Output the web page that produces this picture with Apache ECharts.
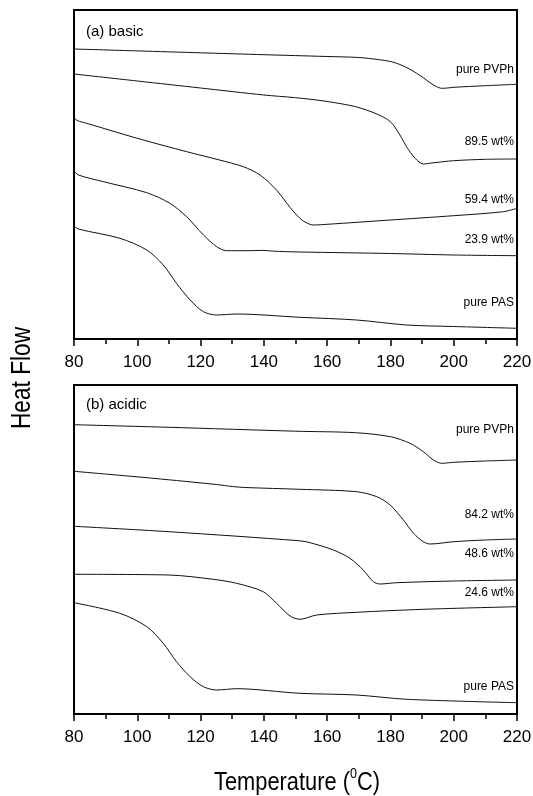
<!DOCTYPE html>
<html>
<head>
<meta charset="utf-8">
<script src="https://cdn.jsdelivr.net/npm/echarts@6/dist/echarts.min.js"></script>
<style>
  html, body { margin: 0; padding: 0; background: #fff; }
  #chart { width: 533px; height: 796px; }
</style>
</head>
<body>
<div id="chart"></div>
<script>
// temperature (°C), heat flow (a.u.)
const basicPVPh = [[80, 290], [100, 288.1], [120, 286.2], [140, 284.3], [160, 282.5], [170, 281.5], [176, 279.5], [180, 277.5], [183, 274.5], [186, 270], [188.3, 265.7], [190.5, 261], [192.5, 256.3], [194.5, 252.5], [196.2, 250.7], [198, 251], [200, 251.7], [210, 253.3], [220, 254.7]]
const basic895 = [[80, 265], [100, 258], [120, 251], [140, 244], [150, 241.3], [159, 238], [169, 232.3], [175.7, 225], [180, 217.3], [183, 204], [185.1, 192.3], [187.8, 180.7], [190.4, 175], [193, 176], [200, 178.3], [210, 179.7], [220, 180]]
const basic594 = [[80, 221.3], [81, 218.5], [84, 215.7], [100, 200.7], [115.6, 187.3], [126, 179], [133.5, 172.3], [138.8, 164], [144, 149], [148.3, 131.5], [151.4, 120.7], [153, 117], [155.6, 114], [160, 114.7], [180, 119], [200, 123.3], [215.7, 127.3], [220, 130.7]]
const basic239 = [[80, 168], [81.4, 164], [89.3, 157.3], [103, 146.3], [110.3, 135.7], [115.6, 122.3], [120.9, 104], [125.1, 92.3], [128.2, 88.3], [135, 88.3], [140, 88.6], [143, 87.8], [151.4, 87], [180, 85.5], [200, 84], [220, 83.3]]
const basicPAS = [[80, 113.3], [81.4, 110], [94.5, 100.7], [103, 89], [108.2, 74], [112.4, 55.7], [116.7, 39], [120.9, 27.3], [125.1, 24], [131.4, 25], [151.4, 21.7], [169.3, 19], [185.1, 14], [200, 12.5], [220, 10.7]]

const acidicPVPh = [[80, 289.3], [110, 286.7], [150, 282.8], [169, 281.3], [180, 277.3], [186.2, 270.7], [190.4, 262.3], [193.6, 254], [196.2, 250.7], [200, 251.7], [210, 253], [220, 254]]
const acidic842 = [[80, 242.7], [105, 235.7], [125, 229.5], [130, 227.5], [134, 226.5], [151.4, 224.7], [169.3, 222.3], [175.7, 217.3], [179.9, 209], [184.1, 194], [187.3, 180.7], [190.4, 172.3], [192.5, 170], [200, 172.3], [210, 174], [220, 175]]
const acidic486 = [[80, 187.7], [110, 182.3], [151.4, 173.2], [154.6, 171.3], [162, 164], [167.2, 155.7], [171.4, 144], [174.6, 132.3], [176.7, 130], [182, 131.3], [200, 133], [220, 134]]
const acidic246 = [[80, 139.7], [110, 139], [124, 134.7], [131.4, 130.7], [139.8, 122.3], [144, 110.7], [148.3, 98], [151.4, 94.7], [156.7, 99], [169.3, 101.7], [190.4, 104.7], [220, 107.3]]
const acidicPAS = [[80, 111.3], [94.5, 100.7], [103, 87.3], [108.2, 70.7], [112.4, 52.3], [116.7, 37.3], [120.9, 27.3], [125.1, 24], [131.4, 25.3], [151.4, 20.7], [169.3, 19], [185.1, 14.7], [220, 11.3]]

const labelsA = ['pure PVPh', '89.5 wt%', '59.4 wt%', '23.9 wt%', 'pure PAS']
const labelsB = ['pure PVPh', '84.2 wt%', '48.6 wt%', '24.6 wt%', 'pure PAS']

const font = 'Liberation Sans, Arial, sans-serif'
const chart = echarts.init(document.getElementById('chart'))

function xAx(gridIndex) {
  return {
    type: 'value',
    gridIndex: gridIndex,
    min: 80,
    max: 220,
    interval: 20,
    axisLine: { show: true, lineStyle: { color: '#000', width: 2 } },
    axisTick: { show: true, length: 7, lineStyle: { color: '#000', width: 1.5 } },
    minorTick: { show: true, splitNumber: 2, length: 5, lineStyle: { color: '#000', width: 1.5 } },
    splitLine: { show: false },
    axisLabel: { color: '#000', fontSize: 17, fontFamily: font, margin: 15 }
  }
}
function yAx(gridIndex) {
  return { type: 'value', gridIndex: gridIndex, min: 0, max: 329, show: false }
}
function line(data, idx) {
  return {
    type: 'line',
    xAxisIndex: idx,
    yAxisIndex: idx,
    data: data,
    smooth: 0.3,
    showSymbol: false,
    lineStyle: { color: '#111', width: 1 },
    silent: true
  }
}

// curve labels (y positions in px)
const posA = [70, 141.7, 200, 240, 302.7]
const posB = [429.3, 515, 553.3, 592.7, 686.7]
const curveTexts = []
labelsA.forEach((t, i) => curveTexts.push({ type: 'text', x: 514, y: posA[i], style: { text: t, fill: '#000', font: '12px ' + font, textAlign: 'right', textVerticalAlign: 'middle' } }))
labelsB.forEach((t, i) => curveTexts.push({ type: 'text', x: 514, y: posB[i], style: { text: t, fill: '#000', font: '12px ' + font, textAlign: 'right', textVerticalAlign: 'middle' } }))

chart.setOption({
  animation: false,
  backgroundColor: '#fff',
  grid: [
    { left: 74, top: 10, width: 443, height: 329, show: true, borderColor: '#000', borderWidth: 2, outerBoundsMode: 'none' },
    { left: 74, top: 385, width: 443, height: 329, show: true, borderColor: '#000', borderWidth: 2, outerBoundsMode: 'none' }
  ],
  xAxis: [xAx(0), xAx(1)],
  yAxis: [yAx(0), yAx(1)],
  series: [
    line(basicPVPh, 0), line(basic895, 0), line(basic594, 0), line(basic239, 0), line(basicPAS, 0),
    line(acidicPVPh, 1), line(acidic842, 1), line(acidic486, 1), line(acidic246, 1), line(acidicPAS, 1)
  ],
  graphic: [
    { type: 'text', x: 86, y: 32, style: { text: '(a) basic', fill: '#000', font: '15px ' + font, textVerticalAlign: 'middle' } },
    { type: 'text', x: 86, y: 405, style: { text: '(b) acidic', fill: '#000', font: '15px ' + font, textVerticalAlign: 'middle' } },
    { type: 'text', x: 23, y: 378, rotation: Math.PI / 2, scaleX: 0.84, style: { text: 'Heat Flow', fill: '#000', font: '27px ' + font, textAlign: 'center', textVerticalAlign: 'middle' } },
    {
      type: 'text', x: 297, y: 781, scaleX: 0.84,
      style: {
        text: '{a|Temperature (}{s|0}{a|C)}',
        textAlign: 'center', textVerticalAlign: 'middle',
        rich: {
          a: { fontSize: 26, fontFamily: font, fill: '#000', lineHeight: 30, verticalAlign: 'bottom' },
          s: { fontSize: 15, fontFamily: font, fill: '#000', lineHeight: 16, verticalAlign: 'top' }
        }
      }
    }
  ].concat(curveTexts)
})
</script>
</body>
</html>
